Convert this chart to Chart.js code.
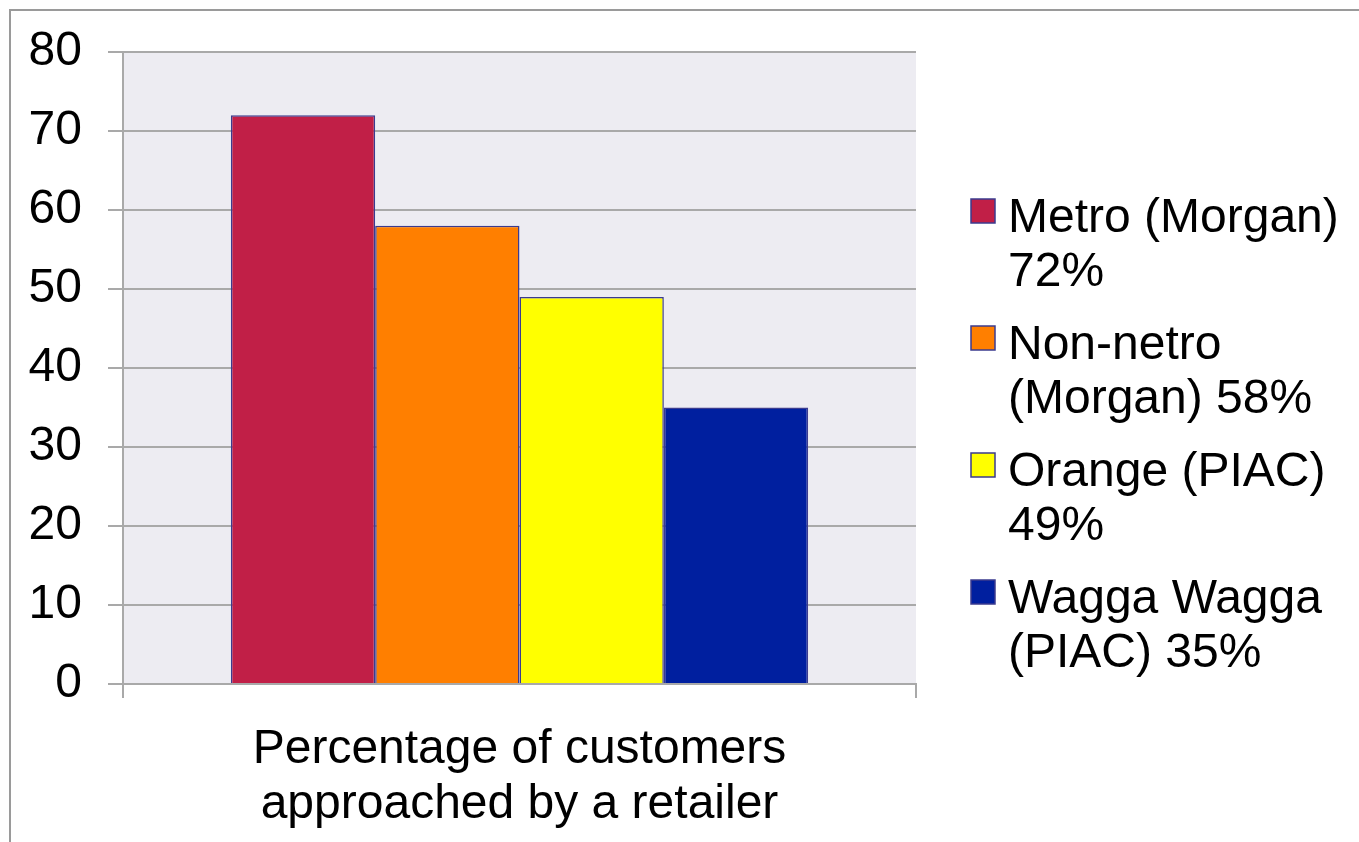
<!DOCTYPE html>
<html lang="en">
<head>
  <meta charset="UTF-8">
  <title>Customers approached by a retailer</title>
  <style>
    html, body {
      margin: 0;
      padding: 0;
      background: #fff;
      overflow: hidden;
    }
    #frame {
      position: absolute;
      left: 9px;
      top: 9px;
      width: 2000px;
      height: 2000px;
      border-left: 2px solid #9a9a9a;
      border-top: 2px solid #9a9a9a;
    }
    canvas {
      position: absolute;
      left: 0;
      top: 0;
    }
  </style>
</head>
<body>
  <div id="frame"></div>
  <canvas id="chart" width="1359" height="842"></canvas>

  <script src="https://cdn.jsdelivr.net/npm/chart.js"></script>
  <script>
    // one category, four sources
    const categories = [['Percentage of customers', 'approached by a retailer']];
    const seriesNames = ['Metro (Morgan)', 'Non-netro (Morgan)', 'Orange (PIAC)', 'Wagga Wagga (PIAC)'];
    const seriesValues = [72, 58, 49, 35];
    const seriesColors = ['#c11f47', '#ff7f00', '#ffff00', '#001f9f'];
    const yTicks = [0, 10, 20, 30, 40, 50, 60, 70, 80];

    const FONT = "'Liberation Sans', Arial, sans-serif";
    const gridColor = '#a9a9a9';
    const barEdge = '#3b3b8f';

    // grey panel behind the bars
    const plotBackground = {
      id: 'plotBackground',
      beforeDraw(chart) {
        const { ctx, chartArea: a } = chart;
        ctx.save();
        ctx.fillStyle = '#edecf2';
        ctx.fillRect(a.left, a.top, a.right - a.left, a.bottom - a.top);
        ctx.restore();
      }
    };

    // legend on the right, each entry word-wrapped to two lines
    function wrap(ctx, text, maxWidth) {
      const words = text.split(' ');
      const lines = [];
      let cur = '';
      words.forEach(w => {
        const test = cur ? cur + ' ' + w : w;
        if (cur && ctx.measureText(test).width > maxWidth) {
          lines.push(cur);
          cur = w;
        } else {
          cur = test;
        }
      });
      if (cur) lines.push(cur);
      return lines;
    }

    const sideLegend = {
      id: 'sideLegend',
      afterDraw(chart) {
        const ctx = chart.ctx;
        const boxX = 971, textX = 1008, box = 24;
        const lineH = 54, rowGap = 19;
        let baseline = 232;
        ctx.save();
        ctx.font = '48px ' + FONT;
        ctx.textBaseline = 'alphabetic';
        ctx.textAlign = 'left';
        chart.data.datasets.forEach(ds => {
          const lines = wrap(ctx, ds.label + ' ' + ds.data[0] + '%', 345);
          ctx.fillStyle = ds.backgroundColor;
          ctx.fillRect(boxX, baseline - 33, box, box);
          ctx.lineWidth = 1.5;
          ctx.strokeStyle = barEdge;
          ctx.strokeRect(boxX, baseline - 33, box, box);
          ctx.fillStyle = '#000';
          lines.forEach((ln, i) => ctx.fillText(ln, textX, baseline + i * lineH));
          baseline += lines.length * lineH + rowGap;
        });
        ctx.restore();
      }
    };

    const datasets = seriesNames.map((name, i) => ({
      label: name,
      data: [seriesValues[i]],
      backgroundColor: seriesColors[i],
      borderColor: barEdge,
      borderWidth: 1.5,
      borderSkipped: 'start',
      categoryPercentage: 0.728,
      barPercentage: 1
    }));

    new Chart(document.getElementById('chart'), {
      type: 'bar',
      data: { labels: categories, datasets },
      options: {
        responsive: false,
        animation: false,
        layout: { padding: { left: 0, top: 52, right: 443, bottom: 0 } },
        plugins: {
          legend: { display: false },
          tooltip: { enabled: false }
        },
        scales: {
          x: {
            grid: {
              drawOnChartArea: false,
              drawTicks: true,
              tickLength: 14,
              color: gridColor,
              lineWidth: 2
            },
            border: { display: true, color: gridColor, width: 2 },
            ticks: {
              color: '#000',
              padding: 24,
              font: { family: FONT, size: 48, lineHeight: 1.15 }
            },
            afterFit: s => { s.height = 158; }
          },
          y: {
            min: 0,
            max: 80,
            afterBuildTicks: s => { s.ticks = yTicks.map(v => ({ value: v })); },
            grid: {
              color: gridColor,
              lineWidth: 2,
              tickLength: 15
            },
            border: { display: true, color: gridColor, width: 2 },
            ticks: {
              color: '#000',
              padding: 26,
              font: { family: FONT, size: 48, lineHeight: 0.9 }
            },
            afterFit: s => { s.width = 123; }
          }
        }
      },
      plugins: [plotBackground, sideLegend]
    });
  </script>
</body>
</html>
